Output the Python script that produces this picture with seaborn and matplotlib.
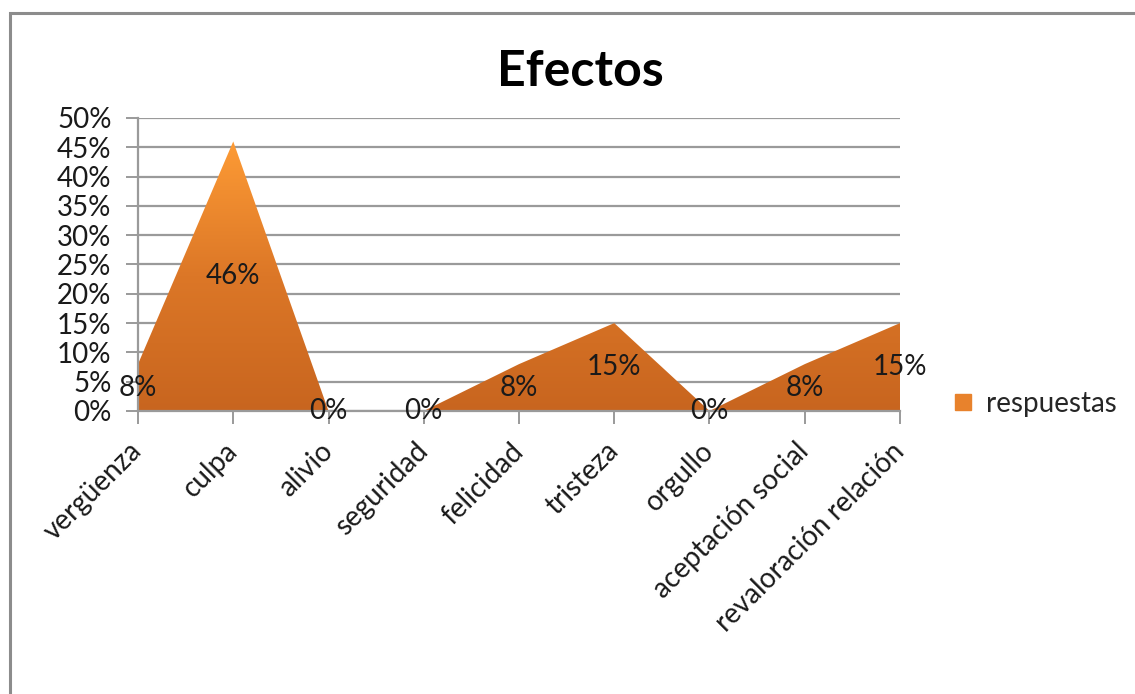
import matplotlib
matplotlib.use("Agg")
import matplotlib.pyplot as plt
import numpy as np
import pandas as pd
import seaborn as sns
from matplotlib.colors import LinearSegmentedColormap
from matplotlib.lines import Line2D
from matplotlib.patches import Rectangle

# Datos del gráfico
categorias = [
    "vergüenza", "culpa", "alivio", "seguridad", "felicidad",
    "tristeza", "orgullo", "aceptación social", "revaloración relación",
]
respuestas = [8, 46, 0, 0, 8, 15, 0, 8, 15]
etiquetas_y = ["0%", "5%", "10%", "15%", "20%", "25%", "30%", "35%", "40%", "45%", "50%"]
titulo = "Efectos"
nombre_serie = "respuestas"

df = pd.DataFrame({"categoria": categorias, "valor": respuestas})
df["pos"] = np.arange(len(df))

sns.set_theme(style="white")
plt.rcParams["font.family"] = ["Lato", "DejaVu Sans"]

FONT = 20
GRID = "#9a9a9a"

fig = plt.figure(figsize=(11.35, 6.94), dpi=100)
ax = fig.add_axes([138 / 1135, 1 - 411 / 694, 762 / 1135, 293 / 694])

# marco gris del área del gráfico
fig.patches.append(Rectangle((10 / 1135, -0.1), 1.2, 1 - 13 / 694 + 0.1,
                             transform=fig.transFigure, fill=False,
                             edgecolor="#8c8c8c", linewidth=2.2, zorder=0))

sns.lineplot(data=df, x="pos", y="valor", ax=ax, linewidth=0, color="#e07a2a")

poly = ax.fill_between(df["pos"], 0, df["valor"], color="none", linewidth=0, zorder=2)

# degradado naranja clipeado al área
cmap = LinearSegmentedColormap.from_list("naranja", ["#c8651f", "#dc7727", "#fd9b35"])
grad = np.linspace(0, 1, 256).reshape(-1, 1)
img = ax.imshow(grad, cmap=cmap, aspect="auto", origin="lower",
                extent=[0, len(df) - 1, 0, 46], zorder=2, interpolation="bicubic")
img.set_clip_path(poly.get_paths()[0], transform=ax.transData)

ax.set_xlim(0, len(df) - 1)
ax.set_ylim(0, 50)
ax.set_yticks(np.arange(0, 51, 5))
ax.set_yticklabels(etiquetas_y, fontsize=FONT, color="#1a1a1a")
ax.set_xticks(df["pos"])
ax.set_xticklabels(categorias, fontsize=FONT, color="#1a1a1a",
                   rotation=45, ha="right", va="center", rotation_mode="anchor")

ax.grid(axis="y", color=GRID, linewidth=1.6, zorder=1)
ax.set_axisbelow(True)
for side in ["top", "right"]:
    ax.spines[side].set_visible(False)
for side in ["left", "bottom"]:
    ax.spines[side].set_color(GRID)
    ax.spines[side].set_linewidth(1.6)
ax.tick_params(axis="both", direction="out", length=9, width=1.4, color=GRID,
               bottom=True, left=True)
ax.tick_params(axis="y", pad=10)
ax.tick_params(axis="x", pad=17)
ax.set_xlabel("")
ax.set_ylabel("")

# etiquetas de datos en la mitad de cada valor
for _, fila in df.iterrows():
    ax.text(fila["pos"], fila["valor"] / 2, f"{fila['valor']}%", fontsize=FONT,
            ha="center", va="center", color="#1a1a1a", zorder=4, clip_on=False)

fig.text(580 / 1135, 1 - 72 / 694, titulo, fontsize=36, fontweight="bold",
         ha="center", va="center", color="black")

handle = Line2D([], [], marker="s", linestyle="none", markersize=12,
                markerfacecolor="#e8822c", markeredgecolor="#e8822c")
fig.legend([handle], [nombre_serie], loc="center left", frameon=False,
           bbox_to_anchor=(950 / 1135, 1 - 404 / 694), fontsize=FONT,
           handlelength=0.9, handletextpad=0.4, borderaxespad=0, borderpad=0)

fig.savefig("out.png", dpi=100)
